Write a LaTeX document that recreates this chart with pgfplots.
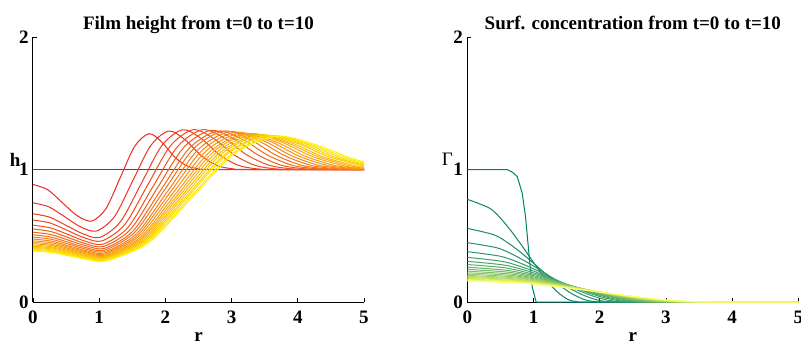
\documentclass[border=0pt]{standalone}
\usepackage{pgfplots}
\pgfplotsset{compat=1.18}
\usepackage{fontspec}
\setmainfont{Liberation Serif}
\definecolor{sumA}{rgb}{0,0.5,0.4}
\definecolor{sumB}{rgb}{1,1,0.4}
\newcommand\lf{\fontsize{9.5}{11}\selectfont\bfseries}
\pgfplotsset{
  myax/.style={
    scale only axis, width=165.5pt, height=132.5pt,
    xmin=0, xmax=5, ymin=0, ymax=2,
    axis lines*=left,
    xtick={0,1,2,3,4,5}, ytick={0,1,2},
    tick align=inside, major tick length=2pt,
    tick style={black, line width=0.4pt},
    axis line style={black, line width=0.5pt},
    /pgf/number format/assume math mode=true,
    ticklabel style={font=\lf},
    xticklabel style={anchor=base, yshift=-10.5pt},
    yticklabel style={anchor=east, inner sep=0pt, xshift=-2pt},
    title style={font=\lf, at={(0.5,1)}, anchor=base, yshift=-2pt},
    every axis x label/.style={at={(rel axis cs:0.5,0)}, anchor=base, inner sep=0pt, yshift=-19.8pt, font=\lf},
    every axis plot/.append style={line width=0.5pt},
  }
}
\begin{document}
\begin{tikzpicture}
\path[use as bounding box] (0,0) rectangle (400.5pt,171.5pt);
\begin{axis}[myax, at={(16.5pt,20.5pt)}, anchor=south west,
  title={Film height from t=0 to t=10}, xlabel={r}, ylabel={h},
  every axis y label/.style={at={(rel axis cs:0,0.5)}, anchor=base east, inner sep=0pt, xshift=-6.1pt, yshift=1.4pt, font=\lf}]
\addplot[red] coordinates {(0,1) (5,1)};
\addplot[smooth, yellow!5!red] coordinates {(0,0.887) (0.2225,0.847) (0.445,0.749) (0.6675,0.651) (0.89,0.611) (1.105,0.707) (1.32,0.941) (1.535,1.174) (1.75,1.27) (1.94,1.210) (2.13,1.099) (2.32,1.028) (2.51,1.005) (2.70,1.0) (5,1.0)};
\addplot[smooth, yellow!10!red] coordinates {(0,0.749) (0.24,0.718) (0.48,0.643) (0.72,0.567) (0.96,0.536) (1.233,0.646) (1.505,0.913) (1.778,1.180) (2.05,1.29) (2.293,1.226) (2.536,1.107) (2.779,1.030) (3.022,1.005) (3.265,1.0) (5,1.0)};
\addplot[smooth, yellow!15!red] coordinates {(0,0.666) (0.2525,0.640) (0.505,0.577) (0.7575,0.514) (1.01,0.488) (1.3225,0.607) (1.635,0.894) (1.9475,1.181) (2.26,1.30) (2.54,1.234) (2.82,1.110) (3.10,1.032) (3.38,1.005) (3.66,1.0) (5,1.0)};
\addplot[smooth, yellow!20!red] coordinates {(0,0.619) (0.26,0.596) (0.52,0.540) (0.78,0.484) (1.04,0.461) (1.385,0.584) (1.73,0.881) (2.075,1.178) (2.42,1.30) (2.73,1.234) (3.04,1.110) (3.35,1.032) (3.66,1.005) (3.975,1.0) (5,1.0)};
\addplot[smooth, yellow!25!red] coordinates {(0,0.580) (0.265,0.559) (0.53,0.509) (0.795,0.458) (1.06,0.437) (1.435,0.563) (1.81,0.869) (2.185,1.174) (2.56,1.30) (2.90,1.234) (3.23,1.110) (3.57,1.032) (3.91,1.005) (4.24,1.0) (5,1.0)};
\addplot[smooth, yellow!30!red] coordinates {(0,0.551) (0.2675,0.532) (0.535,0.486) (0.8025,0.439) (1.07,0.420) (1.4725,0.548) (1.875,0.858) (2.2775,1.167) (2.68,1.295) (3.04,1.230) (3.40,1.109) (3.76,1.031) (4.12,1.005) (4.475,1.0) (5,1.0)};
\addplot[smooth, yellow!35!red] coordinates {(0,0.527) (0.27,0.509) (0.54,0.466) (0.81,0.423) (1.08,0.405) (1.5075,0.534) (1.935,0.848) (2.3625,1.161) (2.79,1.29) (3.17,1.226) (3.55,1.107) (3.93,1.030) (4.31,1.005) (4.685,1.0) (5,1.0)};
\addplot[smooth, yellow!40!red] coordinates {(0,0.507) (0.27,0.490) (0.54,0.450) (0.81,0.409) (1.08,0.392) (1.53,0.523) (1.98,0.841) (2.43,1.159) (2.88,1.29) (3.28,1.226) (3.675,1.107) (4.07,1.030) (4.47,1.005) (4.87,1.0) (5,1.0)};
\addplot[smooth, yellow!45!red] coordinates {(0,0.490) (0.2725,0.474) (0.545,0.436) (0.8175,0.397) (1.09,0.381) (1.56,0.513) (2.03,0.833) (2.50,1.153) (2.97,1.285) (3.385,1.222) (3.80,1.105) (4.21,1.030) (4.63,1.005) (5,1.001)};
\addplot[smooth, yellow!50!red] coordinates {(0,0.475) (0.2725,0.460) (0.545,0.423) (0.8175,0.386) (1.09,0.371) (1.58,0.504) (2.07,0.826) (2.56,1.147) (3.05,1.28) (3.48,1.218) (3.91,1.103) (4.34,1.029) (4.77,1.005) (5,1.002)};
\addplot[smooth, yellow!55!red] coordinates {(0,0.462) (0.2725,0.448) (0.545,0.413) (0.8175,0.377) (1.09,0.363) (1.60,0.496) (2.11,0.819) (2.62,1.142) (3.13,1.275) (3.575,1.214) (4.02,1.101) (4.465,1.029) (4.91,1.005) (5,1.003)};
\addplot[smooth, yellow!60!red] coordinates {(0,0.450) (0.275,0.436) (0.55,0.403) (0.825,0.369) (1.10,0.355) (1.625,0.489) (2.15,0.813) (2.675,1.136) (3.20,1.27) (3.66,1.210) (4.12,1.099) (4.58,1.028) (5,1.006)};
\addplot[smooth, yellow!65!red] coordinates {(0,0.440) (0.275,0.427) (0.55,0.394) (0.825,0.361) (1.10,0.348) (1.6425,0.483) (2.185,0.809) (2.7275,1.135) (3.27,1.27) (3.74,1.210) (4.215,1.099) (4.69,1.028) (5,1.009)};
\addplot[smooth, yellow!70!red] coordinates {(0,0.430) (0.275,0.417) (0.55,0.386) (0.825,0.355) (1.10,0.342) (1.6575,0.477) (2.215,0.804) (2.7725,1.130) (3.33,1.265) (3.815,1.206) (4.30,1.098) (4.785,1.028) (5,1.014)};
\addplot[smooth, yellow!75!red] coordinates {(0,0.421) (0.275,0.409) (0.55,0.379) (0.825,0.348) (1.10,0.336) (1.6725,0.471) (2.245,0.798) (2.8175,1.125) (3.39,1.26) (3.89,1.203) (4.38,1.096) (4.88,1.027) (5,1.019)};
\addplot[smooth, yellow!80!red] coordinates {(0,0.413) (0.275,0.401) (0.55,0.372) (0.825,0.342) (1.10,0.330) (1.6875,0.466) (2.275,0.795) (2.8625,1.124) (3.45,1.26) (3.96,1.203) (4.47,1.096) (5,1.026)};
\addplot[smooth, yellow!85!red] coordinates {(0,0.405) (0.275,0.393) (0.55,0.365) (0.825,0.336) (1.10,0.324) (1.7025,0.460) (2.305,0.790) (2.9075,1.119) (3.51,1.255) (4.03,1.199) (4.55,1.094) (5,1.033)};
\addplot[smooth, yellow!90!red] coordinates {(0,0.398) (0.275,0.387) (0.55,0.359) (0.825,0.331) (1.10,0.320) (1.715,0.457) (2.33,0.788) (2.945,1.119) (3.56,1.255) (4.09,1.199) (4.62,1.094) (5,1.040)};
\addplot[smooth, yellow!95!red] coordinates {(0,0.391) (0.275,0.380) (0.55,0.353) (0.825,0.325) (1.10,0.314) (1.73,0.451) (2.36,0.782) (2.99,1.113) (3.62,1.25) (4.16,1.195) (4.70,1.092) (5,1.049)};
\addplot[smooth, yellow] coordinates {(0,0.385) (0.275,0.374) (0.55,0.348) (0.825,0.321) (1.10,0.310) (1.7425,0.447) (2.385,0.780) (3.0275,1.113) (3.67,1.25) (4.22,1.195) (4.77,1.092) (5,1.058)};
\end{axis}
\begin{axis}[myax, at={(233.65pt,20.5pt)}, anchor=south west,
  title={Surf. concentration from t=0 to t=10}, xlabel={r}, ylabel={Γ},
  every axis y label/.style={at={(rel axis cs:0,0.5)}, anchor=base east, inner sep=0pt, xshift=-7pt, yshift=1.9pt, font=\fontsize{9.5}{11}\selectfont}]
\addplot[sumA] coordinates {(0,1) (0.6,1) (0.68,0.98) (0.755,0.946) (0.83,0.82) (0.88,0.64) (0.93,0.37) (0.98,0.115) (1.04,0) (5,0)};
\addplot[smooth, sumB!5!sumA] coordinates {(0,0.775) (0.337,0.708) (0.506,0.630) (0.674,0.528) (0.843,0.412) (1.011,0.291) (1.18,0.176) (1.348,0.082) (1.517,0.020) (1.685,0) (1.854,0) (5,0)};
\addplot[smooth, sumB!10!sumA] coordinates {(0,0.556) (0.398,0.508) (0.597,0.452) (0.796,0.379) (0.995,0.295) (1.194,0.2085) (1.393,0.126) (1.592,0.059) (1.791,0.0145) (1.99,0) (2.19,0) (5,0)};
\addplot[smooth, sumB!15!sumA] coordinates {(0,0.448) (0.443,0.4095) (0.665,0.364) (0.886,0.305) (1.108,0.238) (1.330,0.168) (1.551,0.1017) (1.773,0.0475) (1.994,0.0116) (2.216,0) (2.438,0) (5,0)};
\addplot[smooth, sumB!20!sumA] coordinates {(0,0.380) (0.481,0.347) (0.722,0.309) (0.962,0.259) (1.203,0.202) (1.444,0.1425) (1.684,0.0863) (1.925,0.0403) (2.165,0.0099) (2.406,0) (2.647,0) (5,0)};
\addplot[smooth, sumB!25!sumA] coordinates {(0,0.337) (0.511,0.308) (0.767,0.274) (1.022,0.2295) (1.278,0.179) (1.533,0.126) (1.789,0.0765) (2.044,0.0357) (2.30,0.0088) (2.555,0) (2.81,0) (5,0)};
\addplot[smooth, sumB!30!sumA] coordinates {(0,0.307) (0.535,0.2806) (0.803,0.2496) (1.071,0.209) (1.339,0.163) (1.606,0.115) (1.874,0.0697) (2.142,0.0325) (2.409,0.008) (2.677,0) (2.945,0) (5,0)};
\addplot[smooth, sumB!35!sumA] coordinates {(0,0.283) (0.558,0.2587) (0.836,0.230) (1.115,0.193) (1.394,0.150) (1.673,0.106) (1.952,0.0642) (2.230,0.030) (2.509,0.0074) (2.788,0) (3.067,0) (5,0)};
\addplot[smooth, sumB!40!sumA] coordinates {(0,0.263) (0.579,0.240) (0.868,0.214) (1.157,0.179) (1.447,0.140) (1.736,0.0986) (2.025,0.0597) (2.314,0.0279) (2.604,0.0068) (2.893,0) (3.182,0) (5,0)};
\addplot[smooth, sumB!45!sumA] coordinates {(0,0.247) (0.597,0.226) (0.896,0.201) (1.194,0.168) (1.493,0.131) (1.791,0.0926) (2.090,0.0561) (2.388,0.0262) (2.687,0.0064) (2.985,0) (3.284,0) (5,0)};
\addplot[smooth, sumB!50!sumA] coordinates {(0,0.233) (0.615,0.213) (0.922,0.189) (1.229,0.159) (1.537,0.124) (1.844,0.0874) (2.151,0.0529) (2.458,0.0247) (2.766,0.0061) (3.073,0) (3.38,0) (5,0)};
\addplot[smooth, sumB!55!sumA] coordinates {(0,0.221) (0.631,0.202) (0.947,0.180) (1.262,0.1505) (1.578,0.117) (1.893,0.0829) (2.209,0.0502) (2.524,0.0234) (2.840,0.0057) (3.155,0) (3.471,0) (5,0)};
\addplot[smooth, sumB!60!sumA] coordinates {(0,0.210) (0.647,0.192) (0.971,0.171) (1.295,0.143) (1.619,0.1115) (1.942,0.0788) (2.266,0.0477) (2.590,0.0223) (2.913,0.0055) (3.237,0) (3.561,0) (5,0)};
\addplot[smooth, sumB!65!sumA] coordinates {(0,0.201) (0.662,0.184) (0.993,0.163) (1.324,0.137) (1.655,0.107) (1.985,0.0754) (2.316,0.0456) (2.647,0.0213) (2.978,0.0052) (3.309,0) (3.64,0) (5,0)};
\addplot[smooth, sumB!70!sumA] coordinates {(0,0.193) (0.675,0.176) (1.013,0.157) (1.350,0.131) (1.688,0.1025) (2.026,0.0724) (2.363,0.0438) (2.701,0.0205) (3.038,0.005) (3.376,0) (3.714,0) (5,0)};
\addplot[smooth, sumB!75!sumA] coordinates {(0,0.186) (0.688,0.170) (1.032,0.151) (1.376,0.127) (1.720,0.0988) (2.063,0.0698) (2.407,0.0422) (2.751,0.0197) (3.095,0.0048) (3.439,0) (3.783,0) (5,0)};
\addplot[smooth, sumB!80!sumA] coordinates {(0,0.179) (0.701,0.1636) (1.052,0.1455) (1.402,0.122) (1.753,0.095) (2.104,0.0671) (2.454,0.0406) (2.805,0.019) (3.155,0.0047) (3.506,0) (3.857,0) (5,0)};
\addplot[smooth, sumB!85!sumA] coordinates {(0,0.173) (0.713,0.158) (1.070,0.1406) (1.426,0.1178) (1.783,0.0919) (2.140,0.0649) (2.496,0.0393) (2.853,0.0183) (3.209,0.0045) (3.566,0) (3.923,0) (5,0)};
\addplot[smooth, sumB!90!sumA] coordinates {(0,0.168) (0.724,0.1536) (1.086,0.1366) (1.448,0.1144) (1.810,0.0892) (2.171,0.063) (2.533,0.0381) (2.895,0.0178) (3.257,0.0044) (3.619,0) (3.981,0) (5,0)};
\addplot[smooth, sumB!95!sumA] coordinates {(0,0.163) (0.735,0.149) (1.102,0.1325) (1.470,0.111) (1.837,0.0866) (2.204,0.0611) (2.572,0.037) (2.939,0.0173) (3.307,0.0042) (3.674,0) (4.041,0) (5,0)};
\addplot[smooth, sumB] coordinates {(0,0.158) (0.746,0.1444) (1.119,0.1285) (1.492,0.1076) (1.866,0.0839) (2.239,0.0593) (2.612,0.0359) (2.985,0.0167) (3.358,0.0041) (3.731,0) (4.104,0) (5,0)};
\end{axis}
\end{tikzpicture}
\end{document}
